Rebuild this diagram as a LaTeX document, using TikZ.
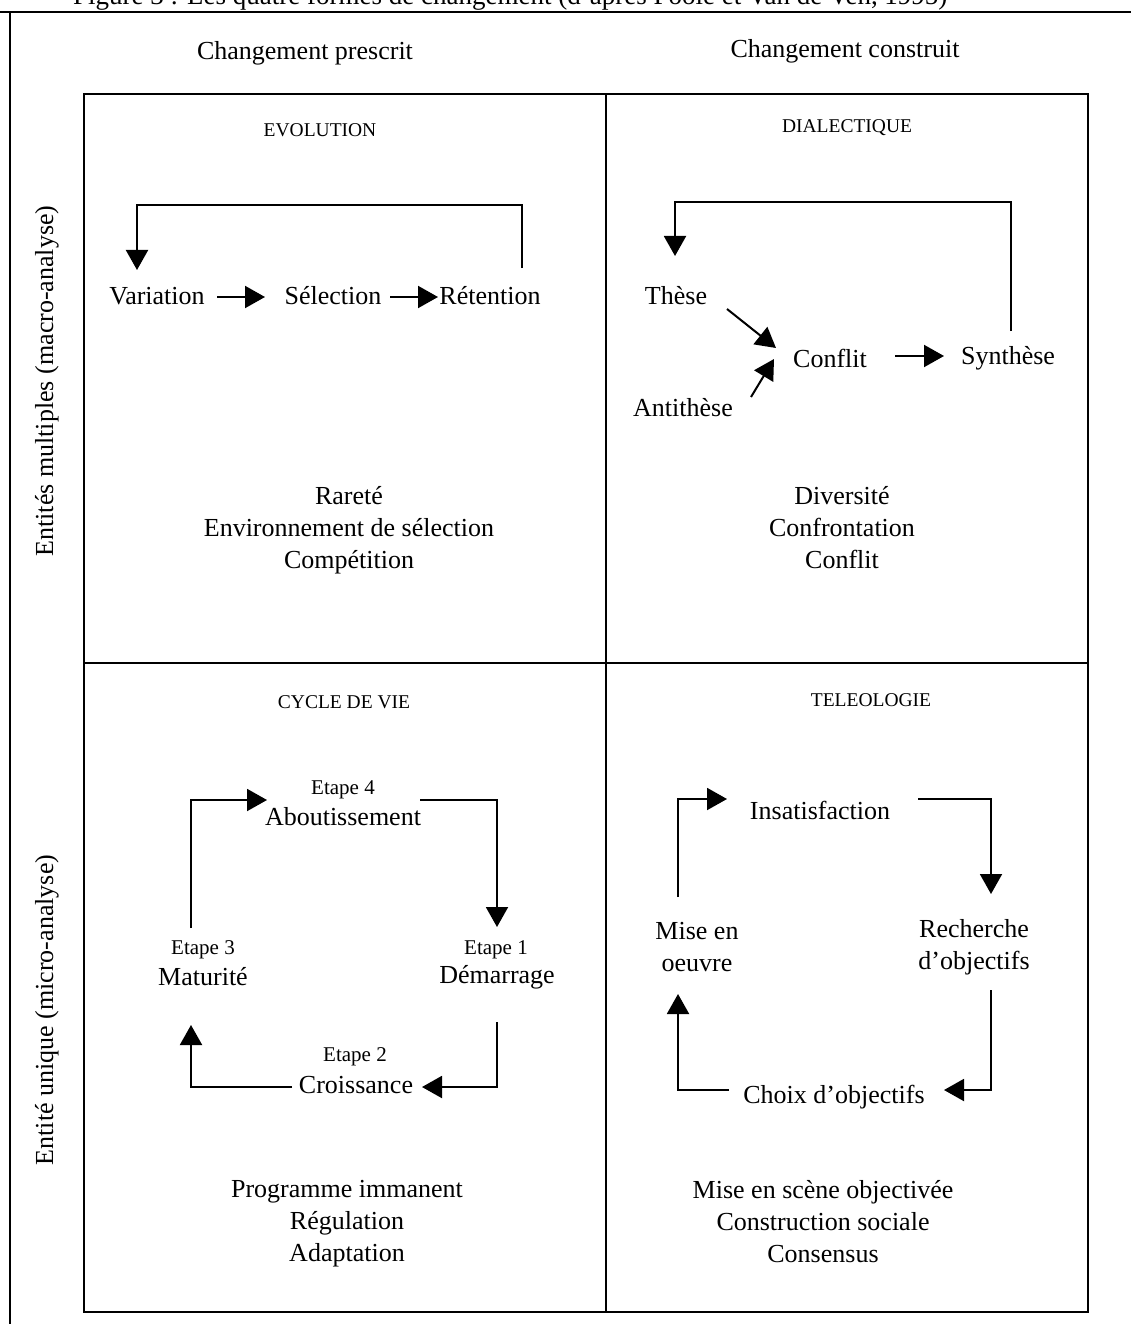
\documentclass[tikz,border=0pt]{standalone}
\usepackage{fontspec}
\setmainfont{Liberation Serif}
\usetikzlibrary{arrows.meta}

\begin{document}
\begin{tikzpicture}[x=1pt,y=-1pt,
  lbl/.style={font=\fontsize{26}{32}\selectfont, inner sep=0pt, align=center},
  stage/.style={font=\fontsize{21}{25}\selectfont, inner sep=0pt},
  quadtitle/.style={font=\fontsize{19.5}{24}\selectfont, inner sep=0pt},
  frame/.style={line width=2pt},
  arr/.style={line width=2pt, -{Triangle[length=20pt,width=22pt]}}]

\useasboundingbox (0,0) rectangle (1131,1324);

% caption, cut by the page edge
\begin{scope}
  \clip (0,0) rectangle (1131,1324);
  \node[lbl, anchor=base west, font=\fontsize{27}{32}\selectfont] (caption) at (73,5)
    {Figure 3 : Les quatre formes de changement (d'après Poole et Van de Ven, 1995)};
\end{scope}

% outer frame
\draw[line width=2.4pt] (0,12) -- (1131,12);
\draw[frame] (10,12) -- (10,1324);

% 2x2 grid
\draw[frame] (84,94) rectangle (1088,1312);
\draw[frame] (606,94) -- (606,1312);
\draw[frame] (84,663) -- (1088,663);

% column headings
\node[lbl] (hdr-prescrit) at (305,53) {Changement prescrit};
\node[lbl] (hdr-construit) at (845,51) {Changement construit};

% row headings
\node[lbl, rotate=90] (row-macro) at (47,381) {Entités multiples (macro-analyse)};
\node[lbl, rotate=90] (row-micro) at (47,1010) {Entité unique (micro-analyse)};

% ---------- EVOLUTION ----------
\node[quadtitle] (t-evo) at (320,130) {EVOLUTION};
\node[lbl] (var) at (157,296) {Variation};
\node[lbl] (sel) at (333,296) {Sélection};
\node[lbl] (ret) at (490,296) {Rétention};
\draw[arr] ([shift={(60,1)}]var.center) -- ([shift={(-68,1)}]sel.center);
\draw[arr] ([shift={(57,1)}]sel.center) -- ([shift={(-52,1)}]ret.center);
\draw[arr] ([shift={(32,-28)}]ret.center) -- ++(0,-63) -| ([shift={(-20,-26)}]var.center);
\node[lbl] (evo-list) at (349,530) {Rareté\\Environnement de sélection\\Compétition};

% ---------- DIALECTIQUE ----------
\node[quadtitle] (t-dia) at (847,128) {DIALECTIQUE};
\node[lbl] (these) at (676,296) {Thèse};
\node[lbl] (anti) at (683,408) {Antithèse};
\node[lbl] (conf) at (830,358) {Conflit};
\node[lbl] (synth) at (1008,358) {Synthèse};
\draw[arr] ([shift={(51,13)}]these.center) -- ([shift={(-54,-10)}]conf.center);
\draw[arr] ([shift={(68,-11)}]anti.center) -- ([shift={(-56,1)}]conf.center);
\draw[arr] ([shift={(65,-2)}]conf.center) -- ([shift={(-64,-2)}]synth.center);
\draw[arr] ([shift={(3,-27)}]synth.center) -- ++(0,-129) -| ([shift={(-1,-40)}]these.center);
\node[lbl] (dia-list) at (842,528) {Diversité\\Confrontation\\Conflit};

% ---------- CYCLE DE VIE ----------
\node[quadtitle] (t-cyc) at (344,702) {CYCLE DE VIE};
\node[stage] (e4) at (343,790) {Etape 4};
\node[lbl] (abo) at (343,817) {Aboutissement};
\node[stage] (e1) at (496,950) {Etape 1};
\node[lbl] (dem) at (497,977) {Démarrage};
\node[stage] (e3) at (203,950) {Etape 3};
\node[lbl] (mat) at (203,977) {Maturité};
\node[stage] (e2) at (355,1057) {Etape 2};
\node[lbl] (cro) at (356,1085) {Croissance};
\draw[arr] ([shift={(-12,-22)}]e3.center) |- ([shift={(-76,-17)}]abo.center);
\draw[arr] ([shift={(77,-17)}]abo.center) -| ([shift={(1,-23)}]e1.center);
\draw[arr] ([shift={(0,45)}]dem.center) |- ([shift={(66,2)}]cro.center);
\draw[arr] ([shift={(-64,2)}]cro.center) -| ([shift={(-12,48)}]mat.center);
\node[lbl] (cyc-list) at (347,1224) {Programme immanent\\Régulation\\Adaptation};

% ---------- TELEOLOGIE ----------
\node[quadtitle] (t-tel) at (871,700) {TELEOLOGIE};
\node[lbl] (ins) at (820,810) {Insatisfaction};
\node[lbl] (mise) at (697,947) {Mise en\\oeuvre};
\node[lbl] (rech) at (974,947) {Recherche\\d’objectifs};
\node[lbl] (choix) at (834,1097) {Choix d’objectifs};
\draw[arr] ([shift={(-19,-50)}]mise.center) |- ([shift={(-93,-11)}]ins.center);
\draw[arr] ([shift={(98,-11)}]ins.center) -| ([shift={(17,-53)}]rech.center);
\draw[arr] ([shift={(17,43)}]rech.center) |- ([shift={(110,-7)}]choix.center);
\draw[arr] ([shift={(-105,-7)}]choix.center) -| ([shift={(-19,47)}]mise.center);
\node[lbl] (tel-list) at (823,1222) {Mise en scène objectivée\\Construction sociale\\Consensus};

\end{tikzpicture}
\end{document}
